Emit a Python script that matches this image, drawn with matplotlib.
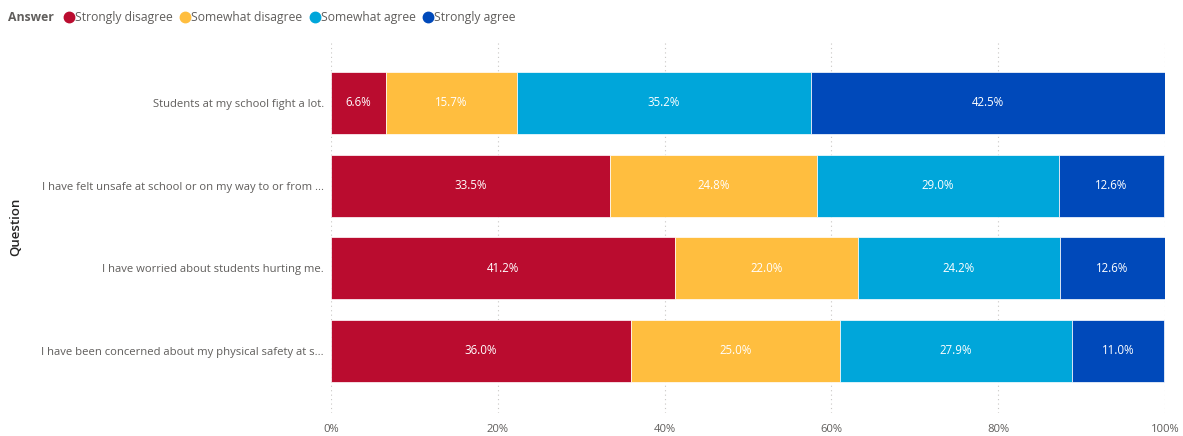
import numpy as np
import matplotlib.pyplot as plt
from matplotlib.lines import Line2D

plt.rcParams['font.family'] = ['Open Sans', 'DejaVu Sans']

questions = ['Students at my school fight a lot.',
             'I have felt unsafe at school or on my way to or from ...',
             'I have worried about students hurting me.',
             'I have been concerned about my physical safety at s...']
answers = ['Strongly disagree', 'Somewhat disagree', 'Somewhat agree', 'Strongly agree']
strongly_disagree = [6.6, 33.5, 41.2, 36.0]
somewhat_disagree = [15.7, 24.8, 22.0, 25.0]
somewhat_agree = [35.2, 29.0, 24.2, 27.9]
strongly_agree = [42.5, 12.6, 12.6, 11.0]
colors = ['#BA0C2F', '#FFBE3F', '#00A6DA', '#0049BA']

series = [strongly_disagree, somewhat_disagree, somewhat_agree, strongly_agree]

fig = plt.figure(figsize=(11.83, 4.36), dpi=100)
ax = fig.add_axes([0.2798, 0.053, 0.705, 0.853])

y = np.arange(len(questions))
left = np.zeros(len(questions))
for vals, col in zip(series, colors):
    vals = np.array(vals)
    ax.barh(y, vals, left=left, height=0.75, color=col, edgecolor='white', linewidth=0.5, zorder=2)
    for yi, l, v in zip(y, left, vals):
        ax.text(l + v / 2, yi, f'{v:.1f}%', ha='center', va='center', color='white', fontsize=8.3)
    left = left + vals

ax.set_xlim(0, 100)
ax.set_ylim(3.75, -0.75)
ax.set_yticks(y)
ax.set_yticklabels(questions, fontsize=8.1, color='#605E5C')
ax.set_xticks([0, 20, 40, 60, 80, 100])
ax.set_xticklabels(['0%', '20%', '40%', '60%', '80%', '100%'], fontsize=8.1, color='#605E5C')
ax.tick_params(axis='y', length=0, pad=5)
ax.tick_params(axis='x', length=0, pad=8)
ax.grid(axis='x', color='#C8C6C4', linestyle=(0, (1, 3)), linewidth=0.8, zorder=0)
for s in ax.spines.values():
    s.set_visible(False)
ax.set_ylabel('Question', fontsize=9.5, color='#252423', fontweight='semibold')
ax.yaxis.set_label_coords(-0.37, 0.5)

fig.text(0.007, 0.96, 'Answer', fontsize=8.8, fontweight='bold', color='#605E5C', va='center')
handles = [Line2D([], [], marker='o', linestyle='', markersize=7.5, color=c) for c in colors]
fig.legend(handles, answers, loc='center left', bbox_to_anchor=(0.049, 0.96), ncol=4,
           frameon=False, handletextpad=-0.05, columnspacing=0.45, fontsize=8.7,
           labelcolor='#605E5C', borderaxespad=0, handlelength=1.1)

fig.savefig('out.png', dpi=100)
